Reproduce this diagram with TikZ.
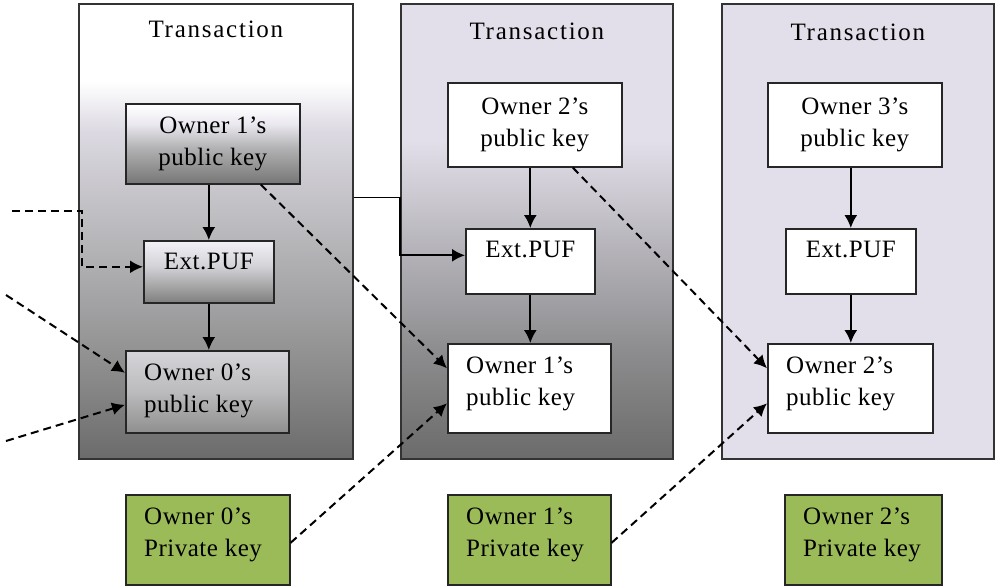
\documentclass[tikz,border=0pt]{standalone}
\usepackage{fontspec}
\setmainfont{Liberation Serif}[LetterSpace=2]
\newfontfamily\titlefont{Liberation Serif}[LetterSpace=7]
\usetikzlibrary{arrows.meta}
\definecolor{lav}{HTML}{E3DFEA}
\definecolor{privgreen}{HTML}{9BBB59}
\definecolor{gA}{HTML}{DCD9E2}
\definecolor{gB}{HTML}{C0BFC3}
\definecolor{gC}{HTML}{A3A3A5}
\definecolor{gD}{HTML}{858585}
\definecolor{gE}{HTML}{6B6B6B}
\definecolor{gF}{HTML}{B5B3B9}
\definecolor{gG}{HTML}{8D8D8F}
\definecolor{kA}{HTML}{EBE9F0}
\definecolor{kB}{HTML}{B2B2B4}
\definecolor{kC}{HTML}{767676}
\definecolor{kD}{HTML}{F3F1F7}
\definecolor{kE}{HTML}{D4D3D8}
\definecolor{kF}{HTML}{AAAAAB}
\definecolor{kG}{HTML}{7F7F7F}
\definecolor{kH}{HTML}{D5D5D9}
\definecolor{kI}{HTML}{BBBBBD}
\definecolor{kJ}{HTML}{8F8F8F}
% column fills
\pgfdeclareverticalshading{colA}{100bp}{color(0bp)=(gE); color(25bp)=(gE);
  color(32.5bp)=(gD); color(42.4bp)=(gC); color(52.3bp)=(gB); color(61bp)=(gA);
  color(66.5bp)=(white); color(100bp)=(white)}
\pgfdeclareverticalshading{colB}{100bp}{color(0bp)=(gE); color(25bp)=(gE);
  color(37bp)=(gG); color(48bp)=(gF); color(60bp)=(lav); color(100bp)=(lav)}
% key box fills
\pgfdeclareverticalshading{keyA}{100bp}{color(0bp)=(kC); color(25bp)=(kC);
  color(47.5bp)=(kB); color(62.5bp)=(kA); color(75bp)=(white); color(100bp)=(white)}
\pgfdeclareverticalshading{keyB}{100bp}{color(0bp)=(kG); color(25bp)=(kG);
  color(40bp)=(kF); color(55bp)=(kE); color(75bp)=(kD); color(100bp)=(kD)}
\pgfdeclareverticalshading{keyC}{100bp}{color(0bp)=(kJ); color(25bp)=(kJ);
  color(50bp)=(kI); color(75bp)=(kH); color(100bp)=(kH)}
\tikzset{
  trans/.style={draw=black!80, line width=1.8pt, anchor=north west, inner sep=0pt,
    minimum width=272pt, minimum height=455pt},
  title/.style={font={\titlefont\fontsize{25}{32}\selectfont}},
  keybox/.style={draw=black!85, line width=1.6pt, anchor=north west, inner sep=0pt,
    align=center},
  privbox/.style={keybox, fill=privgreen, minimum height=90pt},
  txt/.style={anchor=north west, inner sep=0pt, align=left},
  flow/.style={->, line width=1.8pt},
  link/.style={->, line width=2pt, dash pattern=on 8pt off 5pt},
}
\begin{document}
\begin{tikzpicture}[x=1pt, y=-1pt, >={Latex[length=13pt,width=13pt]},
  font=\fontsize{25}{32}\selectfont]
\useasboundingbox (0,0) rectangle (1000,588);
% transactions
\node[trans, shade, shading=colA, minimum width=274pt] (trA) at (78,3) {};
\node[trans, shade, shading=colB] (trB) at (400,3) {};
\node[trans, fill=lav] (trC) at (721,3) {};
\node[title] (ttlA) at ([yshift=-26pt]trA.north) {Transaction};
\node[title] (ttlB) at ([yshift=-28pt]trB.north) {Transaction};
\node[title] (ttlC) at ([yshift=-29pt]trC.north) {Transaction};
% keys
\node[keybox, shade, shading=keyA, minimum width=174pt, minimum height=80pt] (pkA) at (125,103) {Owner 1's\\public key};
\node[keybox, shade, shading=keyB, minimum width=130pt, minimum height=62pt] (pufA) at (143,240) {};
\node[keybox, shade, shading=keyC, minimum width=163pt, minimum height=82pt] (okA) at (125,350) {};
\node[keybox, fill=white, minimum width=174pt, minimum height=84pt] (pkB) at (447,82) {Owner 2's\\public key};
\node[keybox, fill=white, minimum width=129pt, minimum height=65pt] (pufB) at (465,228) {};
\node[keybox, fill=white, minimum width=163pt, minimum height=89pt] (okB) at (447,343) {};
\node[keybox, fill=white, minimum width=174pt, minimum height=84pt] (pkC) at (767,82) {Owner 3's\\public key};
\node[keybox, fill=white, minimum width=130pt, minimum height=65pt] (pufC) at (785,228) {};
\node[keybox, fill=white, minimum width=165pt, minimum height=89pt] (okC) at (767,343) {};
\node[privbox, minimum width=164pt] (privA) at (125,494) {};
\node[privbox, minimum width=163pt] (privB) at (447,494) {};
\node[privbox, minimum width=157pt] (privC) at (784,494) {};
\foreach \c/\n in {A/0,B/1,C/2}
{
    \node[anchor=north, inner sep=0pt] (tpuf\c) at ([yshift=-12.5pt]puf\c.north) {Ext.PUF};
    \node[txt] (tok\c) at ([shift={(19pt,-14pt)}]ok\c.north west) {Owner \n's\\public key};
    \node[txt] (tpriv\c) at ([shift={(19pt,-14pt)}]priv\c.north west) {Owner \n's\\Private key};
    \draw[flow] (puf\c |- pk\c.south) -- (puf\c.north);
    \draw[flow] (puf\c.south) -- (puf\c.south |- ok\c.north);
}
% links
\coordinate (inA) at (12,211);
\coordinate (inB) at (6,295);
\coordinate (inC) at (6,441);
\draw[link] (inA) -| ([shift={(-61pt,5pt)}]pufA.west) -- ([yshift=5pt]pufA.west);
\draw[link] (inB) -- ([yshift=19pt]okA.west);
\draw[link] (inC) -- ([yshift=-13pt]okA.west);
\draw[link] ([xshift=48pt]pkA.south) -- ([yshift=20pt]okB.west);
\draw[link] ([yshift=-3pt]privA.east) -- ([yshift=-15pt]okB.west);
\draw[flow] ([yshift=34pt]trA.east) -- ++(46,0) |- ([yshift=6pt]pufB.west);
\draw[link] ([xshift=38pt]pkB.south) -- ([yshift=20pt]okC.west);
\draw[link] ([yshift=-3pt]privB.east) -- ([yshift=-15pt]okC.west);
\end{tikzpicture}
\end{document}
